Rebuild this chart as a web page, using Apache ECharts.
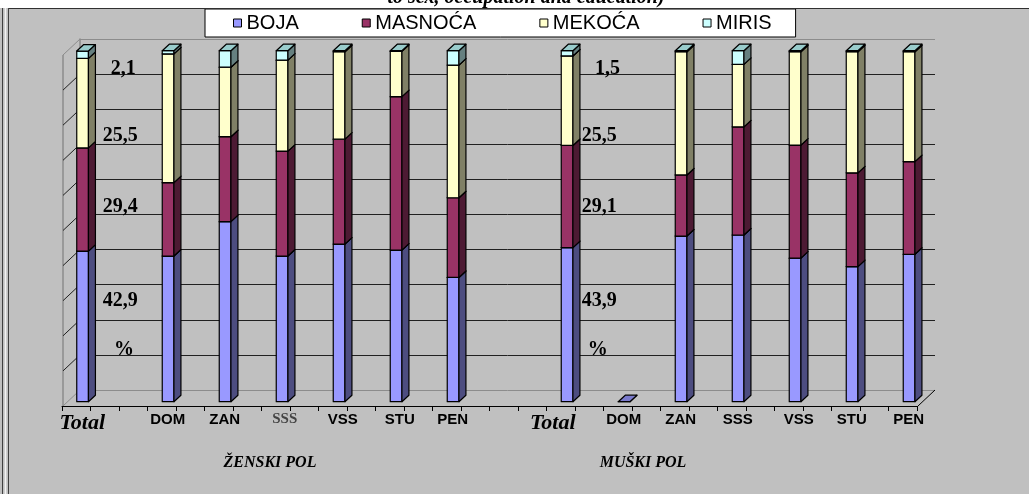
<!DOCTYPE html>
<html>
<head>
<meta charset="utf-8">
<script src="https://cdn.jsdelivr.net/npm/echarts@6/dist/echarts.min.js"></script>
<style>
  html, body { margin: 0; padding: 0; background: #fff; }
  #chart { width: 1029px; height: 494px; }
</style>
</head>
<body>
<div id="chart"></div>
<script>
// ---- data ---------------------------------------------------------------
const _ = null;
// 30 category slots: female group, blank gap, male group
const categories = ['Total', '', '', 'DOM', '', 'ZAN', '', 'SSS', '', 'VSS', '', 'STU', '', 'PEN', '', '', '',
                    'Total', '', 'DOM', '', 'ZAN', '', 'SSS', '', 'VSS', '', 'STU', '', 'PEN'];
const seriesNames = ['BOJA', 'MASNOĆA', 'MEKOĆA', 'MIRIS'];
const boja    = [42.9, _, _, 41.5, _, 51.3, _, 41.5, _, 44.9, _, 43.2, _, 35.4, _, _, _, 43.9, _, 0, _, 47.2, _, 47.5, _, 40.9, _, 38.5, _, 42.0];
const masnoca = [29.4, _, _, 20.9, _, 24.2, _, 29.9, _, 29.9, _, 43.7, _, 22.7, _, _, _, 29.1, _, _, _, 17.4, _, 30.8, _, 32.2, _, 26.7, _, 26.4];
const mekoca  = [25.5, _, _, 36.7, _, 19.8, _, 25.9, _, 24.9, _, 12.9, _, 37.8, _, _, _, 25.5, _, _, _, 35.1, _, 17.8, _, 26.6, _, 34.5, _, 31.3];
const miris   = [2.1, _, _, 0.9, _, 4.7, _, 2.7, _, 0.3, _, 0.2, _, 4.1, _, _, _, 1.5, _, _, _, 0.3, _, 3.9, _, 0.3, _, 0.3, _, 0.3];
const valueTicks = [0, 10, 20, 30, 40, 50, 60, 70, 80, 90, 100];
const groupTitles = ['ŽENSKI POL', 'MUŠKI POL'];
const headline = 'to sex, occupation and education)';
const totalFemale = 0, totalMale = 17;   // category index of each group's Total column

// ---- styles -------------------------------------------------------------
const faces = [
  { front: '#9999ff', side: '#4d4d80', top: '#7a7acc' },
  { front: '#993366', side: '#4d1a33', top: '#73264d' },
  { front: '#ffffcc', side: '#808066', top: '#bfbf99' },
  { front: '#ccffff', side: '#668080', top: '#99cccc' }
];
const DX = 7, DY = 6.5;            // bar depth (side and top faces)
const WALL_DX = 17, WALL_DY = 16;  // floor / side wall depth
const EDGE = '#8c8c8c', GRID = '#202020';

// stacked segments [slot, from, to]
const stacks = [boja, masnoca, mekoca, miris];
const running = categories.map(() => 0);
const segments = stacks.map(vals => {
  const out = [];
  vals.forEach((v, i) => {
    if (v == null) return;
    out.push([i, running[i], running[i] + v]);
    running[i] += v;
  });
  return out;
});

function barRenderer(face) {
  return function (params, api) {
    const k = api.value(0);
    const lo = api.coord([k, api.value(1)]);
    const hi = api.coord([k, api.value(2)]);
    const w = api.size([1, 0])[0] * 0.41;
    const x0 = lo[0] + 0.5, x1 = x0 + w;
    const yb = lo[1], yt = hi[1];
    const stroke = { stroke: '#000', lineWidth: 1.2, lineJoin: 'round' };
    return {
      type: 'group',
      children: [
        { type: 'rect', shape: { x: x0, y: yt, width: w, height: yb - yt },
          style: Object.assign({ fill: face.front }, stroke) },
        { type: 'polygon', shape: { points: [[x1, yt], [x1 + DX, yt - DY], [x1 + DX, yb - DY], [x1, yb]] },
          style: Object.assign({ fill: face.side }, stroke) },
        { type: 'polygon', shape: { points: [[x0, yt], [x0 + DX, yt - DY], [x1 + DX, yt - DY], [x1, yt]] },
          style: Object.assign({ fill: face.top }, stroke) }
      ]
    };
  };
}

// left wall grid lines, floor edges and wall outline
function renderWalls(params, api) {
  const v = api.value(1);
  const back = api.coord([0, v]);
  const front = [back[0] - WALL_DX, back[1] + WALL_DY];
  const isEdge = v === 0 || v === 100;
  const children = [{
    type: 'line', shape: { x1: front[0], y1: front[1], x2: back[0], y2: back[1] },
    style: { stroke: isEdge ? EDGE : GRID, lineWidth: 1 }
  }];
  if (v === 0) {
    const top = api.coord([0, 100]);
    children.push({ type: 'line',
      shape: { x1: front[0], y1: front[1], x2: top[0] - WALL_DX, y2: top[1] + WALL_DY },
      style: { stroke: EDGE, lineWidth: 1.5 } });
    const right = api.coord([1, 0]);
    children.push({ type: 'line',
      shape: { x1: right[0] - WALL_DX, y1: right[1] + WALL_DY, x2: right[0], y2: right[1] },
      style: { stroke: '#000', lineWidth: 1 } });
  }
  return { type: 'group', children };
}

const fmt = v => v.toFixed(1).replace('.', ',');

// value notes beside each Total column, top to bottom
const noteFont = 'bold 20px "Liberation Serif"';
function notes(idx, xs) {
  const texts = [fmt(miris[idx]), fmt(mekoca[idx]), fmt(masnoca[idx]), fmt(boja[idx]), '%'];
  const ys = [68.4, 135.7, 206.7, 300.7, 350];
  return texts.map((t, i) => ({
    type: 'text', x: xs[i], y: ys[i], z: 50,
    style: { text: t, font: noteFont, fill: '#000', verticalAlign: 'middle' }
  }));
}

const labelKey = { 7: 's', 9: 'b', 11: 'b', 25: 'b' };
const axisLabelRich = {
  a: { fontFamily: 'Liberation Sans', fontWeight: 'bold', fontSize: 15, color: '#000', padding: [0, 0, 0, 12] },
  b: { fontFamily: 'Liberation Sans', fontWeight: 'bold', fontSize: 15, color: '#000', padding: [0, 0, 0, 20] },
  s: { fontFamily: 'Liberation Serif', fontWeight: 'bold', fontSize: 15, color: '#444', padding: [0, 0, 0, 18] },
  t: { fontFamily: 'Liberation Serif', fontStyle: 'italic', fontWeight: 'bold', fontSize: 22, color: '#000', padding: [0, 0, 0, 12] },
  tm: { fontFamily: 'Liberation Serif', fontStyle: 'italic', fontWeight: 'bold', fontSize: 22, color: '#000', padding: [0, 16, 0, 0] }
};

const chart = echarts.init(document.getElementById('chart'), null, { renderer: 'canvas' });

chart.setOption({
  backgroundColor: '#c0c0c0',
  animation: false,
  color: faces.map(f => f.front),
  legend: {
    data: seriesNames,
    left: 205, top: 9,
    padding: [4, 24, 4, 28],
    itemGap: 63, itemWidth: 8, itemHeight: 8,
    icon: 'rect',
    itemStyle: { borderColor: '#000', borderWidth: 1 },
    textStyle: { fontFamily: 'Liberation Sans', fontSize: 20, color: '#000' },
    backgroundColor: '#fff', borderColor: '#000', borderWidth: 1, borderRadius: 0,
    selectedMode: false
  },
  grid: [
    { left: 62, right: 112, top: 50.7, bottom: 92.3 },   // bar front plane
    { left: 62, right: 112, top: 50, bottom: 88 },       // floor front edge / category axis
    { left: 80, right: 94, top: 39, bottom: 104 }        // back wall
  ],
  xAxis: [
    { gridIndex: 0, type: 'category', data: categories, show: false },
    { gridIndex: 1, type: 'category', data: categories,
      axisLine: { lineStyle: { color: '#000', width: 1 } },
      axisTick: { show: true, interval: 0, length: 5, lineStyle: { color: '#000' } },
      axisLabel: {
        interval: 0, margin: 6,
        formatter: (v, i) => {
          if (!v) return '';
          if (v === 'Total') return i === totalMale ? '{tm|Total}' : '{t|Total}';
          return '{' + (labelKey[i] || 'a') + '|' + v + '}';
        },
        rich: axisLabelRich
      },
      splitLine: { show: false } },
    { gridIndex: 2, type: 'value', min: 0, max: 1, show: false }
  ],
  yAxis: [
    { gridIndex: 0, type: 'value', min: 0, max: 100, show: false },
    { gridIndex: 1, type: 'value', min: 0, max: 100, show: false },
    { gridIndex: 2, type: 'value', min: 0, max: 100, interval: 10, position: 'right',
      axisLine: { show: true, lineStyle: { color: EDGE, width: 1.5 } },
      axisTick: { show: false }, axisLabel: { show: false },
      splitLine: { show: true, lineStyle: { width: 1,
        color: valueTicks.map(v => (v === 0 || v === 100) ? EDGE : GRID) } } }
  ],
  series: [
    { type: 'custom', name: 'walls', xAxisIndex: 2, yAxisIndex: 2, silent: true, z: 1,
      data: valueTicks.map(v => [0, v]), renderItem: renderWalls }
  ].concat(seriesNames.map((name, s) => ({
    type: 'custom', name, xAxisIndex: 0, yAxisIndex: 0, z: 3 + s,
    itemStyle: { color: faces[s].front },
    encode: { x: 0, y: [1, 2] },
    data: segments[s],
    renderItem: barRenderer(faces[s])
  }))),
  graphic: [
    { type: 'rect', shape: { x: 0, y: 0, width: 1029, height: 8 }, style: { fill: '#fff' }, z: 40 },
    { type: 'text', x: 526, y: -2, z: 41,
      style: { text: headline, font: 'italic bold 20px "Liberation Serif"', fill: '#000', align: 'center', verticalAlign: 'middle' } },
    { type: 'line', shape: { x1: 8, y1: 8.5, x2: 1029, y2: 8.5 }, style: { stroke: '#303030', lineWidth: 1 }, z: 42 },
    { type: 'line', shape: { x1: 2.5, y1: 8, x2: 2.5, y2: 494 }, style: { stroke: '#404040', lineWidth: 1 }, z: 42 },
    { type: 'line', shape: { x1: 5.5, y1: 8, x2: 5.5, y2: 494 }, style: { stroke: '#f4f4f4', lineWidth: 1.5 }, z: 42 },
    { type: 'line', shape: { x1: 8.5, y1: 8, x2: 8.5, y2: 494 }, style: { stroke: '#404040', lineWidth: 1 }, z: 42 },
    { type: 'text', x: 270, y: 463, z: 50,
      style: { text: groupTitles[0], font: 'italic bold 16px "Liberation Serif"', fill: '#000', align: 'center', verticalAlign: 'middle' } },
    { type: 'text', x: 643, y: 463, z: 50,
      style: { text: groupTitles[1], font: 'italic bold 16px "Liberation Serif"', fill: '#000', align: 'center', verticalAlign: 'middle' } }
  ].concat(notes(totalFemale, [110.7, 102.7, 102.7, 102.7, 114]))
   .concat(notes(totalMale, [595, 581.7, 581.7, 581.7, 587.7]))
});
</script>
</body>
</html>
